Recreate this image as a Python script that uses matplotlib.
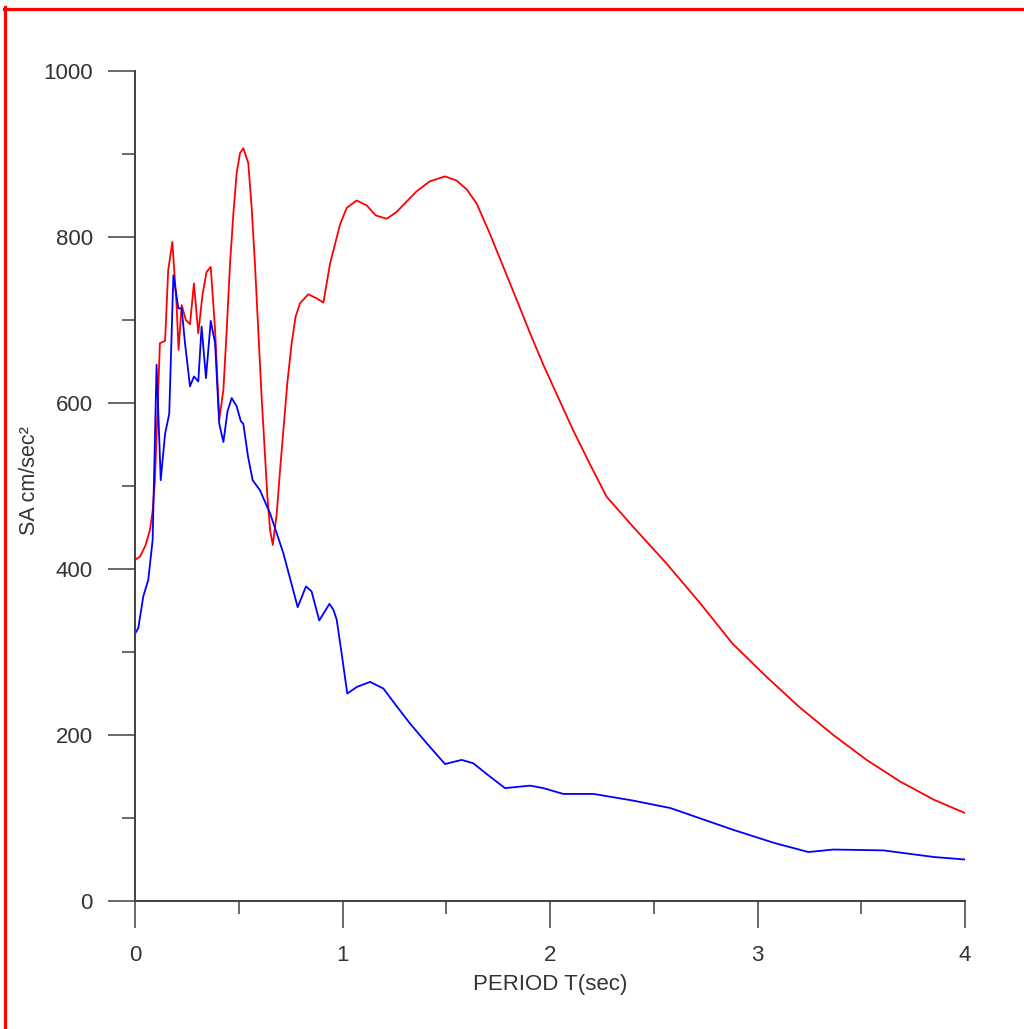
import matplotlib
matplotlib.use('Agg')
import matplotlib.pyplot as plt
from matplotlib.lines import Line2D
from matplotlib.ticker import MultipleLocator

# spectral acceleration, red curve
red_T = [0, 0.024, 0.05, 0.072, 0.085, 0.096, 0.11, 0.12, 0.145, 0.16, 0.18,
         0.20, 0.21, 0.225, 0.245, 0.265, 0.284, 0.305, 0.325, 0.345, 0.365,
         0.386, 0.406, 0.426, 0.442, 0.458, 0.474, 0.49, 0.506, 0.522, 0.546,
         0.562, 0.578, 0.594, 0.61, 0.627, 0.638, 0.651, 0.664, 0.683, 0.699,
         0.715, 0.734, 0.755, 0.774, 0.795, 0.835, 0.876, 0.908, 0.94,
         0.988, 1.02, 1.068, 1.117, 1.16, 1.213, 1.26, 1.31, 1.357, 1.42,
         1.494, 1.55, 1.6, 1.647, 1.71, 1.775, 1.84, 1.904, 1.968, 2.048,
         2.11, 2.193, 2.273, 2.40, 2.48, 2.56, 2.723, 2.88, 3.044, 3.2,
         3.365, 3.526, 3.687, 3.85, 4.0]
red_SA = [411, 415, 428, 447, 470, 507, 600, 672, 675, 760, 794,
          720, 664, 718, 700, 695, 744, 684, 730, 758, 764,
          688, 580, 616, 688, 768, 828, 877, 901, 907, 889,
          836, 768, 688, 608, 535, 487, 447, 429, 467, 519,
          567, 624, 672, 704, 720, 731, 726, 721, 768,
          815, 835, 844, 838, 826, 822, 830, 843, 855, 867,
          873, 868, 857, 840, 804, 764, 724, 684, 646, 602,
          568, 526, 487, 451, 429, 407, 359, 310, 270, 234,
          200, 170, 144, 122, 106]

# spectral acceleration, blue curve
blue_T = [0, 0.016, 0.04, 0.064, 0.085, 0.104, 0.124, 0.145, 0.165, 0.185,
          0.209, 0.225, 0.241, 0.265, 0.284, 0.305, 0.321, 0.342, 0.365,
          0.386, 0.406, 0.426, 0.446, 0.466, 0.49, 0.51, 0.522, 0.545, 0.567,
          0.602, 0.651, 0.715, 0.784, 0.824, 0.851, 0.888, 0.937, 0.956,
          0.972, 0.996, 1.023, 1.07, 1.133, 1.197, 1.26, 1.325, 1.406, 1.494,
          1.574, 1.63, 1.70, 1.783, 1.904, 1.968, 2.064, 2.21, 2.40, 2.58,
          2.88, 3.08, 3.245, 3.366, 3.606, 3.85, 4.0]
blue_SA = [322, 329, 367, 387, 435, 646, 507, 563, 587, 754,
           714, 714, 672, 620, 632, 626, 692, 630, 699,
           672, 575, 553, 590, 606, 596, 578, 575, 535, 507,
           495, 467, 419, 354, 379, 373, 338, 358, 351,
           339, 298, 250, 258, 264, 256, 235, 214, 190, 165,
           170, 166, 152, 136, 139, 136, 129, 129, 121, 112,
           86, 70, 59, 62, 61, 53, 50]

plt.rcParams['font.family'] = ['Liberation Sans', 'DejaVu Sans']
text_color = '#333333'

fig = plt.figure(figsize=(10.24, 10.29), dpi=100)
ax = fig.add_axes([135 / 1024, 1 - 901 / 1029, 830 / 1024, 830 / 1029])

ax.plot(red_T, red_SA, color='#ff0000', lw=1.3)
ax.plot(blue_T, blue_SA, color='#0000ff', lw=1.3)

ax.set_xlim(0, 4)
ax.set_ylim(0, 1000)
ax.xaxis.set_major_locator(MultipleLocator(1))
ax.xaxis.set_minor_locator(MultipleLocator(0.5))
ax.yaxis.set_major_locator(MultipleLocator(200))
ax.yaxis.set_minor_locator(MultipleLocator(100))

for side in ['top', 'right']:
    ax.spines[side].set_visible(False)
for side in ['left', 'bottom']:
    ax.spines[side].set_color('#404040')
    ax.spines[side].set_linewidth(1.4)

ax.tick_params(which='major', length=19.5, width=1.1, color='#404040',
               labelsize=16, labelcolor=text_color)
ax.tick_params(which='minor', length=9.5, width=1.1, color='#404040')
ax.tick_params(axis='y', which='major', pad=11)
ax.tick_params(axis='x', which='major', pad=12)

ax.set_xlabel('PERIOD T(sec)', fontsize=16, color=text_color)
ax.set_ylabel('SA cm/sec²', fontsize=15.5, color=text_color)
ax.xaxis.set_label_coords(0.5, -0.088)
ax.yaxis.set_label_coords(-0.114, 0.506)

# red frame on top and left edge
fig.add_artist(Line2D([4 / 1024, 1], [1 - 8.5 / 1029, 1 - 8.5 / 1029],
                      color='#ff0000', lw=2.3, transform=fig.transFigure))
fig.add_artist(Line2D([5 / 1024, 5 / 1024], [0, 1 - 7 / 1029],
                      color='#ff0000', lw=2.3, transform=fig.transFigure))

fig.savefig('out.png', dpi=100)
